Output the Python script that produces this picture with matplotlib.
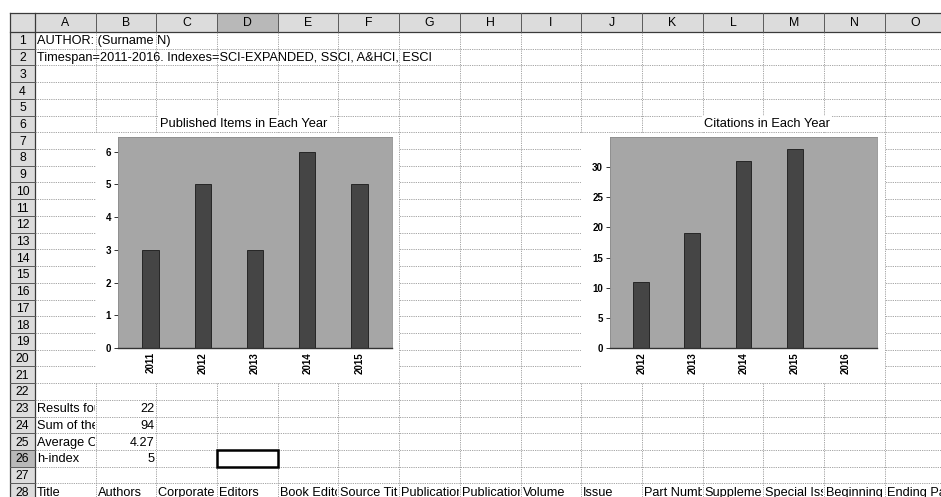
import matplotlib
matplotlib.use("Agg")
import matplotlib.pyplot as plt
from matplotlib.patches import Rectangle
from matplotlib.transforms import Bbox, TransformedBbox

# data read from the sheet
pub_years = ['2011', '2012', '2013', '2014', '2015']
pub_counts = [3, 5, 3, 6, 5]
cite_years = ['2012', '2013', '2014', '2015', '2016']
cite_counts = [11, 19, 31, 33, 0]

col_letters = list('ABCDEFGHIJKLMNO')
summary_labels = ['Results found', 'Sum of the Times Cited',
                  'Average Citations per Item', 'h-index']
summary_values = ['22', '94', '4.27', '5']
field_names = ['Title', 'Authors', 'Corporate Authors', 'Editors', 'Book Editors',
               'Source Title', 'Publication Date', 'Publication Year', 'Volume',
               'Issue', 'Part Number', 'Supplement', 'Special Issue',
               'Beginning Page', 'Ending Page']
author_line = 'AUTHOR: (Surname N)'
span_line = 'Timespan=2011-2016. Indexes=SCI-EXPANDED, SSCI, A&HCI, ESCI'

plt.rcParams['font.family'] = ['Liberation Sans', 'DejaVu Sans']

W, H = 941, 497
fig = plt.figure(figsize=(W / 100, H / 100), dpi=100)
sheet = fig.add_axes([0, 0, 1, 1])
sheet.set_xlim(0, W)
sheet.set_ylim(H, 0)
sheet.axis('off')

# sheet geometry (pixels)
X_ROWNUM = 10
X_A = 35
CW = 60.7
Y_HEAD = 13
Y_ROW1 = 32
RH = 16.72
NROWS = 29
FS = 9.2


def col_x(i):
    return X_A + i * CW


def row_y(r):
    return Y_ROW1 + (r - 1) * RH


grid_kw = dict(color='#9a9a9a', lw=0.6, ls=(0, (1.5, 1.2)), zorder=1)

# gridlines
for r in range(1, NROWS + 1):
    sheet.plot([X_A, W], [row_y(r), row_y(r)], **grid_kw)
for i in range(1, 16):
    sheet.plot([col_x(i), col_x(i)], [Y_ROW1, H], **grid_kw)

# header row and row number column
sheet.add_patch(Rectangle((X_ROWNUM, Y_HEAD), W - X_ROWNUM, Y_ROW1 - Y_HEAD,
                          facecolor='#dcdcdc', edgecolor='none', zorder=2))
sheet.add_patch(Rectangle((X_ROWNUM, Y_ROW1), X_A - X_ROWNUM, H - Y_ROW1,
                          facecolor='#dcdcdc', edgecolor='none', zorder=2))
sheet.add_patch(Rectangle((col_x(3), Y_HEAD), CW, Y_ROW1 - Y_HEAD,
                          facecolor='#b8b8b8', edgecolor='none', zorder=2))
sheet.add_patch(Rectangle((X_ROWNUM, row_y(26)), X_A - X_ROWNUM, RH,
                          facecolor='#b8b8b8', edgecolor='none', zorder=2))
line_kw = dict(color='#3a3a3a', lw=0.9, zorder=3)
sheet.plot([X_ROWNUM, W], [Y_HEAD, Y_HEAD], **line_kw)
sheet.plot([X_ROWNUM, W], [Y_ROW1, Y_ROW1], **line_kw)
sheet.plot([X_ROWNUM, X_ROWNUM], [Y_HEAD, H], **line_kw)
sheet.plot([X_A, X_A], [Y_HEAD, H], **line_kw)
for i in range(1, 16):
    sheet.plot([col_x(i), col_x(i)], [Y_HEAD, Y_ROW1], color='#5a5a5a', lw=0.7, zorder=3)
for r in range(2, NROWS + 1):
    sheet.plot([X_ROWNUM, X_A], [row_y(r), row_y(r)], color='#5a5a5a', lw=0.7, zorder=3)

for i, c in enumerate(col_letters):
    sheet.text(col_x(i) + CW / 2, (Y_HEAD + Y_ROW1) / 2 + 1, c, ha='center', va='center',
               fontsize=8.8, zorder=4)
for r in range(1, NROWS):
    sheet.text((X_ROWNUM + X_A) / 2, row_y(r) + RH / 2 + 1, str(r), ha='center',
               va='center', fontsize=8.8, zorder=4)


def cell_text(col, row, s, ha='left'):
    # text is cut at the cell border, like a filled neighbour cell does in a sheet
    x0 = col_x(col)
    y0 = row_y(row)
    if ha == 'left':
        x = x0 + 2
    else:
        x = x0 + CW - 2
    t = sheet.text(x, y0 + RH / 2 + 1, s, ha=ha, va='center', fontsize=FS, zorder=4)
    box = TransformedBbox(Bbox([[x0 + 0.5, y0], [x0 + CW - 1, y0 + RH]]), sheet.transData)
    t.set_clip_on(True)
    t.set_clip_box(box)
    t.set_clip_path(None)
    return t


sheet.text(col_x(0) + 2, row_y(1) + RH / 2 + 1, author_line, ha='left', va='center',
           fontsize=FS, zorder=4)
sheet.text(col_x(0) + 2, row_y(2) + RH / 2 + 1, span_line, ha='left', va='center',
           fontsize=FS, zorder=4)

for k, (lab, val) in enumerate(zip(summary_labels, summary_values)):
    cell_text(0, 23 + k, lab)
    cell_text(1, 23 + k, val, ha='right')

for i, name in enumerate(field_names):
    cell_text(i, 28, name)

# selected cell D26
sheet.add_patch(Rectangle((col_x(3), row_y(26)), CW, RH, facecolor='none',
                          edgecolor='black', lw=1.8, zorder=5))

# chart areas (white, covering the gridlines)
sheet.add_patch(Rectangle((col_x(1), row_y(7) + 0.5), 5 * CW,
                          row_y(22) - row_y(7) - 0.5, facecolor='white',
                          edgecolor='none', zorder=3))
sheet.add_patch(Rectangle((col_x(9), row_y(7) + 0.5), 5 * CW,
                          row_y(22) - row_y(7) - 0.5, facecolor='white',
                          edgecolor='none', zorder=3))

title_kw = dict(ha='center', va='center', fontsize=9.3, zorder=4,
                bbox=dict(facecolor='white', edgecolor='none', pad=1.5))
sheet.text(244, row_y(6) + RH / 2, 'Published Items in Each Year', **title_kw)
sheet.text(767, row_y(6) + RH / 2, 'Citations in Each Year', **title_kw)


def bar_chart(px_left, px_right, px_top, px_bottom, years, counts, ymax, tick_max, step, xpad):
    ax = fig.add_axes([px_left / W, 1 - px_bottom / H,
                       (px_right - px_left) / W, (px_bottom - px_top) / H])
    ax.set_facecolor('#a6a6a6')
    ax.bar(range(len(years)), counts, width=0.31, color='#454545',
           edgecolor='#1a1a1a', linewidth=0.6)
    ax.set_xlim(-xpad, len(years) - 1 + xpad)
    ax.set_ylim(0, ymax)
    ax.set_yticks(range(0, tick_max + 1, step))
    ax.set_xticks(range(len(years)))
    ax.set_xticklabels(years, rotation=90, fontsize=7, fontweight='bold')
    ax.tick_params(axis='x', length=0, pad=3)
    ax.tick_params(axis='y', length=3, width=0.7, pad=2, labelsize=7, color='#333333')
    for lab in ax.get_yticklabels():
        lab.set_fontweight('bold')
    for side in ['top', 'right', 'left']:
        ax.spines[side].set_color('#8c8c8c')
        ax.spines[side].set_linewidth(0.6)
    ax.spines['bottom'].set_color('#333333')
    ax.spines['bottom'].set_linewidth(1.0)
    return ax


bar_chart(118, 392, 137, 348, pub_years, pub_counts, 6.45, 6, 1, 0.62)
bar_chart(610, 877, 137, 348, cite_years, cite_counts, 35, 30, 5, 0.61)

fig.savefig('out.png', dpi=100)
